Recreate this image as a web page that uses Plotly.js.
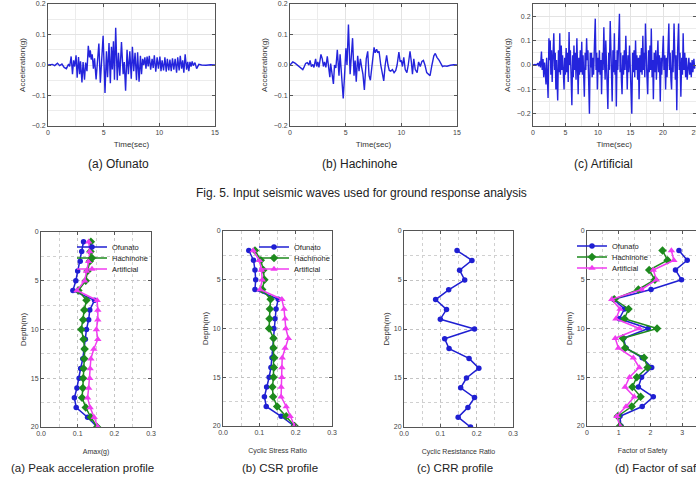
<!DOCTYPE html>
<html>
<head>
<meta charset="utf-8">
<script src="https://cdn.plot.ly/plotly-3.0.1.min.js"></script>
<style>
  html, body { margin: 0; padding: 0; overflow: hidden; background: #fff; }
  #fig { width: 720px; height: 479px; }
</style>
</head>
<body>
<div id="fig"></div>
<script>
// ---- Input acceleration time histories (time in sec, acceleration in g) ----
const ofunatoT = [0.00,0.40,0.60,0.85,1.05,1.25,1.45,1.65,1.85,1.95,2.08,2.20,2.30,2.40,2.52,2.62,2.74,2.84,2.92,3.05,3.15,3.28,3.38,3.50,3.62,3.72,3.80,3.88,3.97,4.08,4.18,4.32,4.45,4.57,4.70,4.82,4.95,5.12,5.25,5.35,5.48,5.60,5.70,5.78,5.88,5.97,6.08,6.22,6.33,6.45,6.60,6.75,6.85,6.97,7.10,7.22,7.35,7.48,7.58,7.70,7.82,7.95,8.05,8.18,8.30,8.40,8.50,8.60,8.70,8.80,8.90,9.00,9.10,9.22,9.35,9.45,9.55,9.68,9.80,9.92,10.05,10.15,10.25,10.38,10.50,10.62,10.72,10.85,10.95,11.07,11.18,11.30,11.42,11.55,11.65,11.78,11.88,12.00,12.10,12.20,12.32,12.45,12.55,12.65,12.75,12.85,12.95,13.05,13.20,13.35,13.55,13.80,14.20,14.60,15.00];
const ofunatoA = [0.000,0.002,-0.002,0.006,-0.002,0.003,-0.008,-0.012,0.003,-0.005,0.028,-0.030,0.015,-0.005,0.032,-0.042,0.026,-0.030,0.012,-0.057,0.010,-0.048,0.008,-0.020,0.063,0.025,0.048,0.018,0.035,-0.012,0.022,-0.047,0.015,0.070,-0.058,0.010,0.096,-0.092,0.045,-0.040,0.072,-0.060,0.060,-0.015,0.078,-0.048,0.122,-0.050,0.040,-0.035,0.075,-0.030,0.010,-0.084,0.050,-0.030,0.045,-0.045,0.060,-0.020,0.040,-0.050,0.042,-0.055,0.030,-0.030,0.020,0.000,0.025,-0.012,0.028,-0.005,0.030,-0.015,0.020,-0.010,0.032,-0.022,0.025,-0.012,0.028,-0.020,0.015,-0.018,0.025,-0.022,0.020,-0.018,0.018,-0.020,0.022,-0.015,0.020,-0.025,0.025,-0.018,0.030,-0.012,0.015,-0.025,0.035,-0.015,0.010,-0.020,0.010,-0.005,0.012,-0.002,0.008,-0.012,0.002,0.000,-0.001,0.001,0.000];

const hachinoheT = [0.00,0.25,0.45,0.70,0.95,1.15,1.25,1.40,1.55,1.70,1.80,1.92,2.05,2.15,2.30,2.40,2.50,2.60,2.78,2.90,3.00,3.10,3.22,3.35,3.48,3.58,3.65,3.75,3.90,4.00,4.12,4.25,4.40,4.50,4.62,4.78,4.92,5.02,5.12,5.25,5.40,5.50,5.62,5.75,5.85,5.95,6.08,6.20,6.32,6.45,6.55,6.68,6.85,6.98,7.10,7.22,7.40,7.55,7.65,7.78,7.88,8.00,8.15,8.30,8.42,8.55,8.68,8.80,8.92,9.05,9.20,9.35,9.50,9.62,9.78,9.90,10.00,10.10,10.22,10.35,10.50,10.62,10.78,10.90,11.00,11.12,11.25,11.42,11.55,11.70,11.85,11.98,12.12,12.28,12.45,12.58,12.75,12.92,13.05,13.20,13.40,13.55,13.70,13.85,14.10,14.40,14.70,15.00];
const hachinoheA = [0.000,0.010,0.006,-0.002,-0.010,-0.015,-0.008,0.005,0.008,0.000,0.015,-0.005,0.002,-0.008,0.020,-0.005,0.010,-0.008,0.035,0.020,-0.005,0.010,-0.008,0.028,-0.010,-0.040,0.005,-0.030,-0.062,0.000,-0.010,0.050,-0.035,0.035,-0.040,-0.110,-0.020,0.055,0.000,0.133,-0.030,0.020,0.088,-0.035,0.015,-0.055,0.030,-0.020,0.020,-0.010,-0.030,-0.082,0.020,0.045,-0.035,-0.050,0.020,0.058,0.040,0.052,0.040,0.045,0.000,-0.030,-0.052,0.000,0.032,0.000,-0.018,-0.020,-0.015,-0.025,-0.018,0.000,0.042,0.010,0.015,-0.005,0.025,-0.015,-0.025,0.000,0.045,0.010,-0.030,0.020,-0.015,-0.025,0.010,-0.005,0.012,0.015,0.000,-0.025,-0.032,-0.035,0.000,0.030,0.038,0.025,0.015,0.005,-0.005,-0.003,-0.004,-0.001,0.001,0.000];

const artificialT = [0.00,0.30,0.55,0.75,0.90,1.05,1.15,1.30,1.42,1.55,1.65,1.78,1.88,2.00,2.10,2.22,2.32,2.45,2.55,2.65,2.75,2.85,2.95,3.08,3.20,3.32,3.42,3.52,3.62,3.70,3.80,3.92,4.02,4.12,4.22,4.35,4.45,4.55,4.65,4.78,4.88,4.98,5.10,5.20,5.30,5.42,5.55,5.65,5.75,5.85,5.98,6.10,6.20,6.30,6.40,6.52,6.62,6.75,6.85,6.95,7.05,7.15,7.28,7.38,7.50,7.60,7.70,7.80,7.90,8.02,8.12,8.25,8.35,8.45,8.55,8.68,8.80,8.90,9.00,9.10,9.22,9.32,9.45,9.58,9.70,9.80,9.90,10.02,10.12,10.22,10.32,10.45,10.55,10.68,10.78,10.90,11.00,11.10,11.20,11.32,11.42,11.52,11.65,11.75,11.88,11.98,12.08,12.18,12.30,12.40,12.52,12.62,12.72,12.82,12.95,13.05,13.18,13.30,13.40,13.50,13.60,13.70,13.82,13.92,14.05,14.15,14.28,14.40,14.50,14.62,14.72,14.85,14.95,15.08,15.20,15.32,15.42,15.55,15.65,15.78,15.88,15.98,16.10,16.22,16.32,16.45,16.55,16.68,16.78,16.90,17.00,17.10,17.20,17.30,17.42,17.52,17.65,17.78,17.88,18.00,18.10,18.20,18.32,18.42,18.52,18.65,18.75,18.88,18.98,19.10,19.22,19.32,19.45,19.58,19.70,19.80,19.92,20.05,20.15,20.28,20.40,20.52,20.62,20.75,20.90,21.00,21.10,21.22,21.32,21.45,21.55,21.70,21.80,21.90,22.00,22.12,22.25,22.40,22.52,22.62,22.75,22.88,23.00,23.10,23.22,23.35,23.48,23.60,23.72,23.85,23.98,24.10,24.22,24.35,24.48,24.60,24.75,24.88,25.00];
const artificialA = [0.000,0.002,0.000,0.008,-0.005,0.015,-0.010,0.055,-0.020,0.025,-0.050,0.010,-0.030,-0.080,0.030,-0.060,-0.135,0.110,0.020,0.100,-0.040,0.060,-0.070,0.040,0.130,-0.020,0.050,-0.100,0.020,-0.060,-0.145,0.060,-0.030,0.130,-0.040,0.080,-0.020,0.040,-0.060,-0.100,0.030,-0.040,0.070,-0.030,0.050,-0.070,0.135,0.000,0.060,-0.080,-0.165,0.040,-0.050,0.080,-0.020,0.050,-0.060,0.110,0.010,-0.120,0.030,-0.040,0.060,-0.030,0.095,-0.040,0.040,-0.080,-0.130,0.050,-0.020,0.110,0.020,0.060,-0.060,-0.200,0.050,-0.010,0.050,-0.050,0.030,-0.040,0.080,0.190,-0.020,0.050,-0.100,0.030,-0.030,0.060,-0.040,0.020,-0.120,0.050,-0.020,0.155,0.020,-0.060,0.100,-0.050,-0.100,-0.180,0.050,-0.020,0.180,0.030,-0.060,-0.150,0.060,-0.030,0.130,-0.040,0.020,-0.170,0.060,-0.020,0.100,0.210,-0.030,0.050,-0.060,-0.120,0.040,-0.040,0.060,-0.020,0.120,0.010,-0.100,0.040,-0.030,0.080,0.000,-0.060,-0.200,0.050,-0.030,0.060,-0.050,0.100,-0.020,0.040,-0.060,0.030,-0.140,0.040,-0.030,0.070,-0.040,0.120,-0.020,0.050,-0.050,0.170,0.020,-0.040,-0.120,0.060,-0.030,0.080,-0.020,0.150,-0.050,0.020,-0.140,0.050,-0.030,0.060,-0.060,0.040,0.100,-0.030,0.040,-0.150,0.030,-0.040,0.070,0.120,-0.020,0.040,-0.100,0.030,-0.050,0.060,0.170,-0.020,0.050,-0.060,-0.100,0.060,-0.030,0.170,0.020,-0.060,0.040,-0.185,0.060,0.170,-0.020,0.050,-0.130,0.030,-0.040,0.130,-0.020,0.050,-0.050,0.030,-0.060,0.020,0.030,-0.040,0.010,-0.050,0.020,-0.030,0.025,-0.015,-0.005];

// ---- Ground response profiles ----
const depthAmax = [1,2,3,4,5,6,7,8,9,10,11,12,13,14,15,16,17,18,19,20];
const amaxOfunato    = [0.116,0.111,0.107,0.100,0.095,0.087,0.146,0.133,0.130,0.124,0.121,0.118,0.114,0.108,0.104,0.098,0.091,0.096,0.127,0.153];
const amaxHachinohe  = [0.136,0.135,0.133,0.127,0.122,0.102,0.124,0.118,0.115,0.110,0.116,0.119,0.118,0.116,0.115,0.114,0.112,0.122,0.136,0.153];
const amaxArtificial = [0.130,0.133,0.130,0.124,0.119,0.098,0.153,0.155,0.155,0.151,0.155,0.144,0.136,0.134,0.133,0.130,0.127,0.134,0.145,0.155];

const depthLiq = [2,3,4,5,6,7,8,9,10,11,12,13,14,15,16,17,18,19,20];
const csrOfunato    = [0.071,0.084,0.088,0.090,0.088,0.152,0.146,0.143,0.140,0.139,0.137,0.135,0.132,0.127,0.120,0.114,0.119,0.160,0.196];
const csrHachinohe  = [0.088,0.104,0.111,0.114,0.108,0.131,0.129,0.128,0.127,0.139,0.139,0.141,0.140,0.139,0.136,0.138,0.149,0.174,0.197];
const csrArtificial = [0.083,0.100,0.106,0.108,0.102,0.162,0.168,0.171,0.173,0.180,0.171,0.163,0.162,0.162,0.160,0.160,0.174,0.185,0.197];
const crrValues     = [0.146,0.187,0.153,0.167,0.123,0.087,0.117,0.100,0.194,0.112,0.124,0.179,0.206,0.172,0.156,0.194,0.176,0.149,0.183];
const fsOfunato     = [2.90,3.16,2.79,2.98,2.02,0.84,1.18,1.02,1.93,1.15,1.23,1.74,2.04,1.72,1.62,2.09,1.74,1.04,1.07];
const fsHachinohe   = [2.38,2.54,1.96,2.14,1.62,0.86,1.31,1.18,2.21,1.13,1.20,1.80,1.91,1.57,1.43,1.69,1.41,0.97,1.04];
const fsArtificial  = [2.66,2.74,2.09,2.19,1.72,0.78,1.04,0.91,1.65,0.89,0.99,1.46,1.65,1.34,1.20,1.49,1.23,0.94,1.04];

const seriesNames = ['Ofunato', 'Hachinohe', 'Artificial'];

// ---- Styling ----
const W = 720, H = 479;
const colX = (a, b) => [a / W, b / W];
const rowY = (top, bottom) => [1 - bottom / H, 1 - top / H];

const BASE = 'Liberation Sans, Arial, sans-serif';
const tickFont = {family: BASE, size: 7, color: '#444'};
const axTitleFont = {family: BASE, size: 8, color: '#333'};
const smallTitleFont = {family: BASE, size: 7, color: '#333'};
const captionFont = {family: BASE, size: 12, color: '#222'};
const bottomCaptionFont = {family: BASE, size: 11.5, color: '#222'};
const legendFont = {family: BASE, size: 7.5, color: '#222'};

const waveColor = '#2424dc';
const seriesColor = ['#1f1fd2', '#1d8a1d', '#f03cf0'];
const seriesSymbol = ['circle', 'diamond', 'triangle-up'];

function axis(opts) {
  return Object.assign({
    showline: true, mirror: 'ticks', linecolor: '#555', linewidth: 1,
    ticks: 'inside', ticklen: 3, tickwidth: 1, tickcolor: '#555',
    showgrid: true, gridcolor: '#e3e3e3', gridwidth: 1, zeroline: false,
    tickfont: tickFont, fixedrange: true
  }, opts);
}
const waveMinor = d => ({dtick: d, showgrid: true, gridcolor: '#ececec', gridwidth: 1, ticks: ''});
const profMinor = d => ({dtick: d, showgrid: true, gridcolor: '#d0d0d0', griddash: 'dot', gridwidth: 1, ticks: ''});
const profGrid = {gridcolor: '#c4c4c4', griddash: 'dot'};

const traces = [];
// time histories
[[ofunatoT, ofunatoA, 'x', 'y'], [hachinoheT, hachinoheA, 'x2', 'y2'], [artificialT, artificialA, 'x3', 'y3']]
  .forEach(([t, a, xa, ya]) => traces.push({
    x: t, y: a, xaxis: xa, yaxis: ya, type: 'scatter', mode: 'lines',
    line: {color: waveColor, width: 1.4}, showlegend: false, hoverinfo: 'skip'
  }));

// profiles, each entry in its own small legend box so rows sit close together
function profile(xv, depth, i, xa, ya, legendId) {
  return {
    x: xv, y: depth, xaxis: xa, yaxis: ya, type: 'scatter', mode: 'lines+markers',
    name: seriesNames[i], legend: legendId, showlegend: true,
    line: {color: seriesColor[i], width: 1.5},
    marker: {color: seriesColor[i], symbol: seriesSymbol[i], size: i === 0 ? 5.5 : 6.5},
    hoverinfo: 'skip'
  };
}
[amaxOfunato, amaxHachinohe, amaxArtificial].forEach((v, i) =>
  traces.push(profile(v, depthAmax, i, 'x4', 'y4', 'legend' + (i + 2))));
[csrOfunato, csrHachinohe, csrArtificial].forEach((v, i) =>
  traces.push(profile(v, depthLiq, i, 'x5', 'y5', 'legend' + (i + 5))));
traces.push({
  x: crrValues, y: depthLiq, xaxis: 'x6', yaxis: 'y6', type: 'scatter', mode: 'lines+markers',
  line: {color: seriesColor[0], width: 1.5}, marker: {color: seriesColor[0], size: 5.5},
  showlegend: false, hoverinfo: 'skip'
});
[fsOfunato, fsHachinohe, fsArtificial].forEach((v, i) =>
  traces.push(profile(v, depthLiq, i, 'x7', 'y7', 'legend' + (i + 8))));

function legendAt(textLeft, yc) {
  return {x: (textLeft - 40) / W, xanchor: 'left', y: 1 - yc / H, yanchor: 'middle',
          bgcolor: 'rgba(0,0,0,0)', borderwidth: 0, font: legendFont};
}

const waveY = rowY(4, 126);
const layout = {
  width: W, height: H,
  margin: {l: 0, r: 0, t: 0, b: 0},
  paper_bgcolor: '#fff', plot_bgcolor: '#fff',
  font: {family: BASE},
  showlegend: true,
  xaxis: axis({domain: colX(48, 215), anchor: 'y', range: [0, 15], dtick: 5, tick0: 0, minor: waveMinor(2.5),
               title: {text: 'Time(sec)', font: axTitleFont, standoff: 5}}),
  yaxis: axis({domain: waveY, anchor: 'x', range: [-0.2, 0.2], dtick: 0.1, tickformat: '.1f', minor: waveMinor(0.05),
               title: {text: 'Acceleration(g)', font: axTitleFont, standoff: 4}}),
  xaxis2: axis({domain: colX(290, 457), anchor: 'y2', range: [0, 15], dtick: 5, tick0: 0, minor: waveMinor(2.5),
               title: {text: 'Time(sec)', font: axTitleFont, standoff: 5}}),
  yaxis2: axis({domain: waveY, anchor: 'x2', range: [-0.2, 0.2], dtick: 0.1, tickformat: '.1f', minor: waveMinor(0.05),
               title: {text: 'Acceleration(g)', font: axTitleFont, standoff: 4}}),
  xaxis3: axis({domain: colX(533, 695.5), anchor: 'y3', range: [0, 25], dtick: 5, tick0: 0, minor: waveMinor(2.5),
               title: {text: 'Time(sec)', font: axTitleFont, standoff: 5}}),
  yaxis3: axis({domain: waveY, anchor: 'x3', range: [-0.25, 0.25], dtick: 0.1, tickformat: '.1f', minor: waveMinor(0.05),
               title: {text: 'Acceleration(g)', font: axTitleFont, standoff: 4}}),

  xaxis4: axis(Object.assign({domain: colX(41, 151), anchor: 'y4', range: [0, 0.3], dtick: 0.1, tickformat: '.1f', minor: profMinor(0.05),
               title: {text: 'Amax(g)', font: smallTitleFont, standoff: 12}}, profGrid)),
  yaxis4: axis(Object.assign({domain: rowY(232, 427), anchor: 'x4', range: [20, 0], dtick: 5, minor: profMinor(2.5),
               title: {text: 'Depth(m)', font: axTitleFont, standoff: 3}}, profGrid)),
  xaxis5: axis(Object.assign({domain: colX(223, 332), anchor: 'y5', range: [0, 0.3], dtick: 0.1, tickformat: '.1f', minor: profMinor(0.05),
               title: {text: 'Cyclic Stress Ratio', font: smallTitleFont, standoff: 12}}, profGrid)),
  yaxis5: axis(Object.assign({domain: rowY(231, 426), anchor: 'x5', range: [20, 0], dtick: 5, minor: profMinor(2.5),
               title: {text: 'Depth(m)', font: axTitleFont, standoff: 3}}, profGrid)),
  xaxis6: axis(Object.assign({domain: colX(404, 513), anchor: 'y6', range: [0, 0.3], dtick: 0.1, tickformat: '.1f', minor: profMinor(0.05),
               title: {text: 'Cyclic Resistance Ratio', font: smallTitleFont, standoff: 12}}, profGrid)),
  yaxis6: axis(Object.assign({domain: rowY(231, 427), anchor: 'x6', range: [20, 0], dtick: 5, minor: profMinor(2.5),
               title: {text: 'Depth(m)', font: axTitleFont, standoff: 3}}, profGrid)),
  xaxis7: axis(Object.assign({domain: colX(587, 698), anchor: 'y7', range: [0, 3.5], dtick: 1, minor: profMinor(0.5),
               title: {text: 'Factor of Safety', font: smallTitleFont, standoff: 12}}, profGrid)),
  yaxis7: axis(Object.assign({domain: rowY(231, 426), anchor: 'x7', range: [20, 0], dtick: 5, minor: profMinor(2.5),
               title: {text: 'Depth(m)', font: axTitleFont, standoff: 3}}, profGrid)),

  legend2: legendAt(112, 247), legend3: legendAt(112, 258), legend4: legendAt(112, 269),
  legend5: legendAt(294, 247), legend6: legendAt(294, 258), legend7: legendAt(294, 269),
  legend8: legendAt(612, 246), legend9: legendAt(612, 257), legend10: legendAt(612, 268),

  annotations: [
    ['(a) Ofunato', 118, 164, 'center', captionFont],
    ['(b) Hachinohe', 360, 164, 'center', captionFont],
    ['(c) Artificial', 603, 164, 'center', captionFont],
    ['Fig. 5. Input seismic waves used for ground response analysis', 361, 193, 'center', captionFont],
    ['(a) Peak acceleration profile', 82, 468, 'center', bottomCaptionFont],
    ['(b) CSR profile', 280, 468, 'center', bottomCaptionFont],
    ['(c) CRR profile', 455, 468, 'center', bottomCaptionFont],
    ['(d) Factor of safety profile', 613, 468, 'left', bottomCaptionFont]
  ].map(([text, x, y, anchor, font]) => ({
    text, x: x / W, y: 1 - y / H, xref: 'paper', yref: 'paper',
    xanchor: anchor, yanchor: 'middle', showarrow: false, font
  }))
};

Plotly.newPlot('fig', traces, layout, {staticPlot: true, displayModeBar: false});
</script>
</body>
</html>
